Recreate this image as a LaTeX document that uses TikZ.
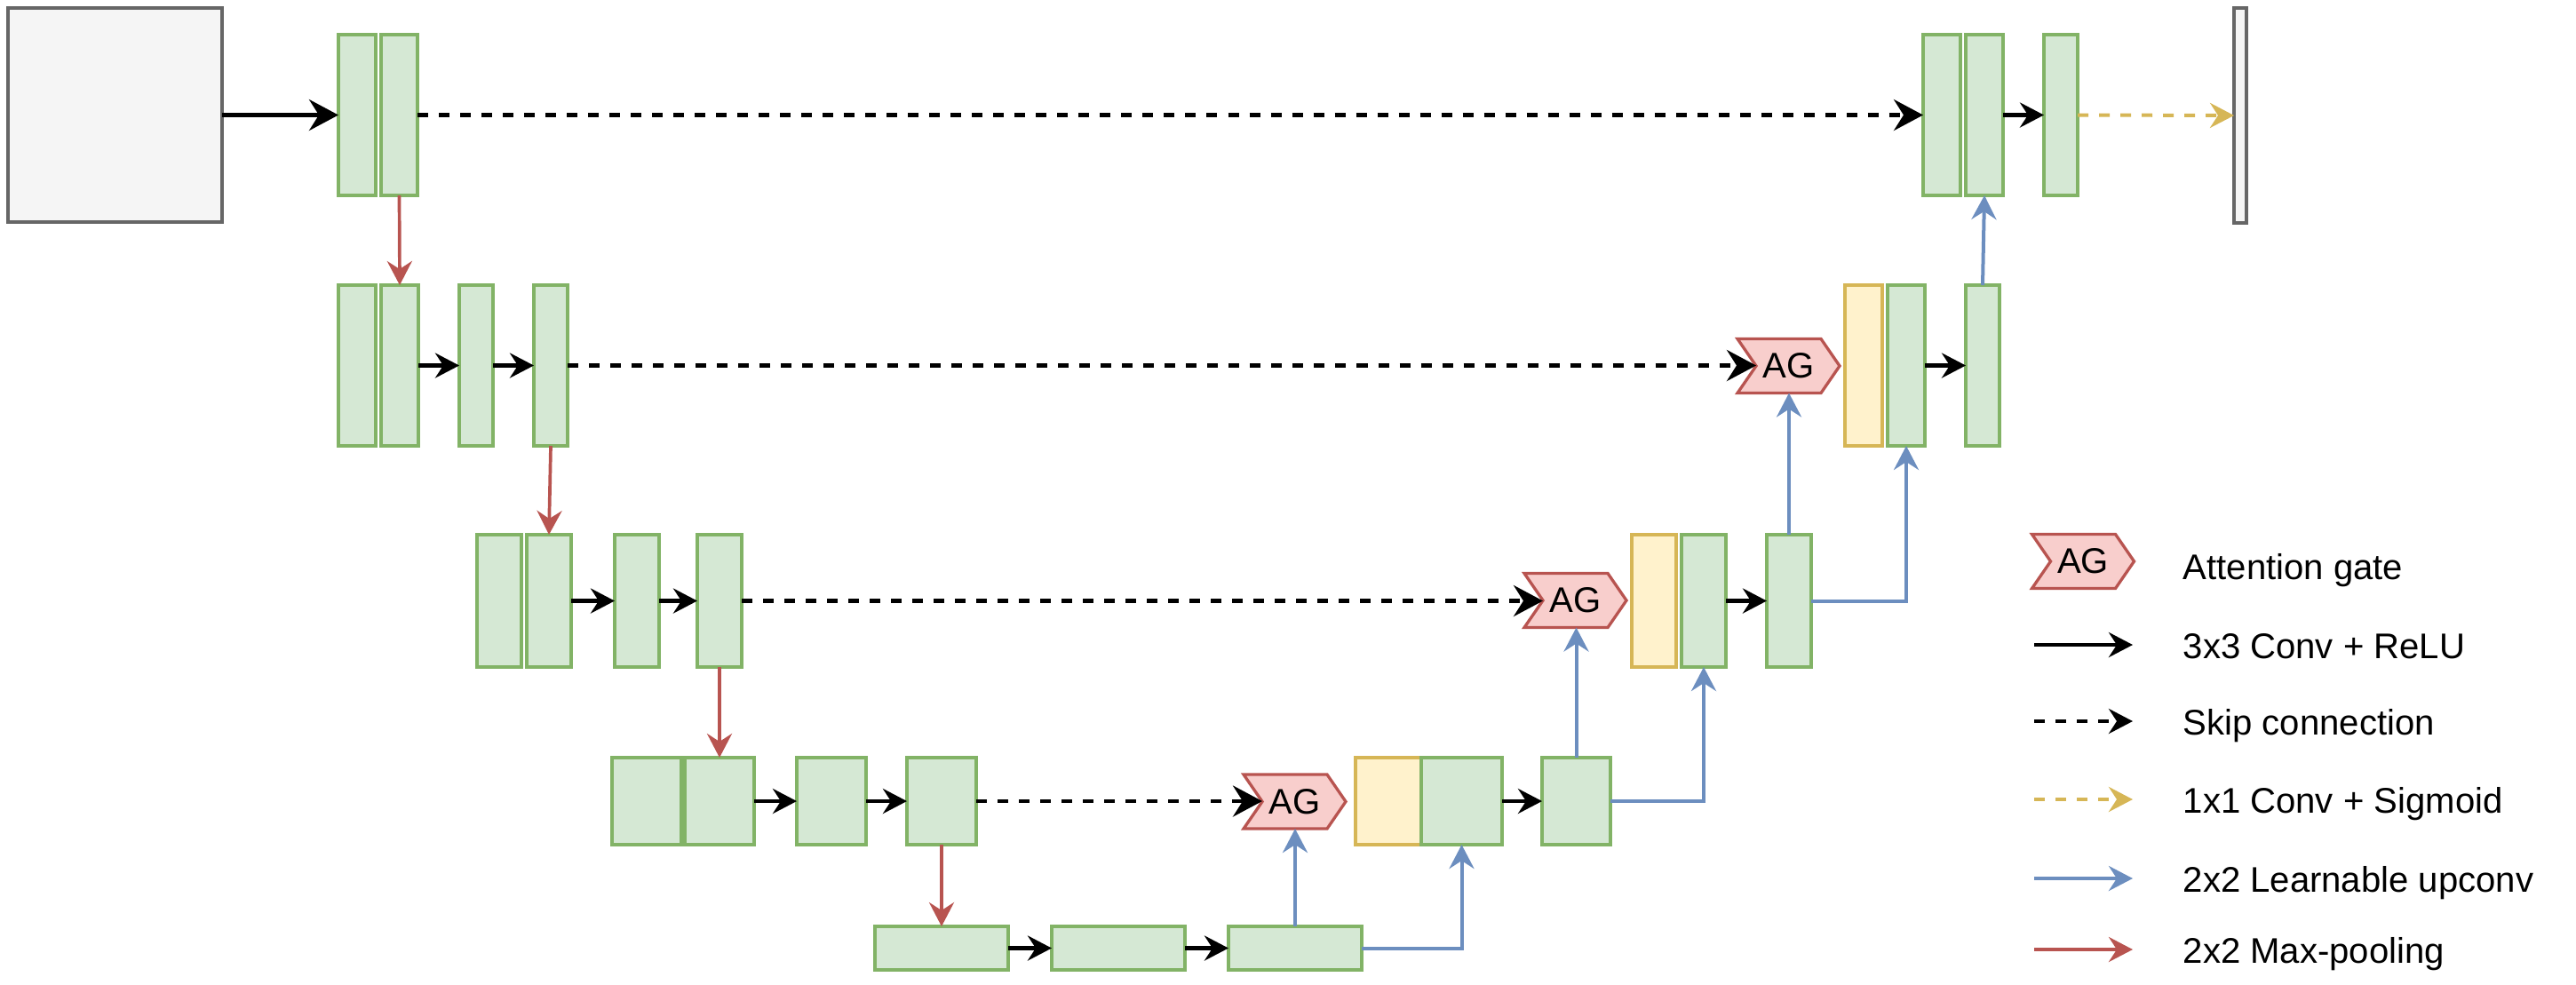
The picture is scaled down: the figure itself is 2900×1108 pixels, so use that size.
\documentclass[tikz,border=0pt]{standalone}
\usepackage{fontspec}
\setmainfont{Liberation Sans}
\usetikzlibrary{arrows.meta}
\definecolor{gfill}{HTML}{D5E8D4}
\definecolor{gline}{HTML}{82B366}
\definecolor{yfill}{HTML}{FFF2CC}
\definecolor{yline}{HTML}{D6B656}
\definecolor{rfill}{HTML}{F8CECC}
\definecolor{rline}{HTML}{B85450}
\definecolor{bline}{HTML}{6C8EBF}
\definecolor{kfill}{HTML}{F5F5F5}
\definecolor{kline}{HTML}{666666}
\tikzset{
  gbox/.style={draw=gline, fill=gfill, line width=0.033cm},
  ybox/.style={draw=yline, fill=yfill, line width=0.033cm},
  kbox/.style={draw=kline, fill=kfill, line width=0.038cm},
  agshape/.style={draw=rline, fill=rfill, line width=0.033cm, line join=miter},
  agtext/.style={inner sep=0pt, outer sep=0pt, minimum width=1.15cm, minimum height=0.61cm, font=\fontsize{11.4pt}{13pt}\selectfont},
  arrowtip/.style={-{Stealth[length=0.27cm, width=0.28cm, inset=0.09cm]}},
  bigtip/.style={-{Stealth[length=0.33cm, width=0.35cm, inset=0.11cm]}},
  convarrow/.style={arrowtip, draw=black, line width=0.042cm},
  bigconv/.style={bigtip, draw=black, line width=0.042cm},
  skiparrow/.style={bigconv, dash pattern=on 0.12cm off 0.12cm},
  legskip/.style={convarrow, dash pattern=on 0.12cm off 0.12cm},
  sigmarrow/.style={arrowtip, draw=yline, line width=0.04cm, dash pattern=on 0.12cm off 0.12cm},
  uparr/.style={arrowtip, draw=bline, line width=0.04cm},
  poolarr/.style={arrowtip, draw=rline, line width=0.037cm},
  lbl/.style={anchor=base west, inner sep=0pt, font=\fontsize{11.4pt}{13pt}\selectfont}
}
\newcommand{\mybox}[6]{\node[#2, inner sep=0pt, outer sep=0pt, minimum width={(#5-#3)*0.01cm}, minimum height={(#6-#4)*0.01cm}] (#1) at ({(#3+#5)/2},{(#4+#6)/2}) {};}
\newcommand{\agate}[3]{%
  \draw[agshape] ({#2-57.5},{#3-30.5}) -- ({#2+36.5},{#3-30.5}) -- ({#2+57.5},#3) -- ({#2+36.5},{#3+30.5}) -- ({#2-57.5},{#3+30.5}) -- ({#2-36.5},#3) -- cycle;
  \node[agtext] (#1) at (#2,#3) {AG};
  \coordinate (#1n) at ({#2-36.5},#3);
}
\begin{document}
\begin{tikzpicture}[x=0.01cm, y=-0.01cm]
\useasboundingbox (0,0) rectangle (2900,1108);
% input / output
\mybox{in}{kbox}{9}{9}{250}{250}
\mybox{out}{kbox}{2515}{9}{2529}{251}
% level 1
\mybox{e11}{gbox}{381}{39}{423}{220}
\mybox{e12}{gbox}{429}{39}{470}{220}
\mybox{d11}{gbox}{2165}{39}{2207}{220}
\mybox{d12}{gbox}{2213}{39}{2255}{220}
\mybox{d13}{gbox}{2301}{39}{2339}{220}
% level 2
\mybox{e21}{gbox}{381}{321}{423}{502}
\mybox{e22}{gbox}{429}{321}{471}{502}
\mybox{e23}{gbox}{517}{321}{555}{502}
\mybox{e24}{gbox}{601}{321}{639}{502}
\mybox{y2}{ybox}{2077}{321}{2119}{502}
\mybox{d21}{gbox}{2125}{321}{2167}{502}
\mybox{d22}{gbox}{2213}{321}{2251}{502}
\agate{ag2}{2013.5}{412}
% level 3
\mybox{e31}{gbox}{537}{602}{587}{751}
\mybox{e32}{gbox}{593}{602}{643}{751}
\mybox{e33}{gbox}{692}{602}{742}{751}
\mybox{e34}{gbox}{785}{602}{835}{751}
\mybox{y3}{ybox}{1837}{602}{1887}{751}
\mybox{d31}{gbox}{1893}{602}{1943}{751}
\mybox{d32}{gbox}{1989}{602}{2039}{751}
\agate{ag3}{1773.5}{676}
% level 4
\mybox{e41}{gbox}{689}{853}{767}{951}
\mybox{e42}{gbox}{771}{853}{849}{951}
\mybox{e43}{gbox}{897}{853}{975}{951}
\mybox{e44}{gbox}{1021}{853}{1099}{951}
\mybox{y4}{ybox}{1526}{853}{1600}{951}
\mybox{d41}{gbox}{1600}{853}{1691}{951}
\mybox{d42}{gbox}{1736}{853}{1813}{951}
\agate{ag4}{1457.5}{902.5}
% level 5
\mybox{m1}{gbox}{985}{1043}{1135}{1092}
\mybox{m2}{gbox}{1184}{1043}{1334}{1092}
\mybox{m3}{gbox}{1383}{1043}{1533}{1092}

% conv arrows
\draw[bigconv] (in.east) -- (e11.west);
\draw[convarrow] (d12.east) -- (d13.west);
\draw[convarrow] (e22.east) -- (e23.west);
\draw[convarrow] (e23.east) -- (e24.west);
\draw[convarrow] (d21.east) -- (d22.west);
\draw[convarrow] (e32.east) -- (e33.west);
\draw[convarrow] (e33.east) -- (e34.west);
\draw[convarrow] (d31.east) -- (d32.west);
\draw[convarrow] (e42.east) -- (e43.west);
\draw[convarrow] (e43.east) -- (e44.west);
\draw[convarrow] (d41.east) -- (d42.west);
\draw[convarrow] (m1.east) -- (m2.west);
\draw[convarrow] (m2.east) -- (m3.west);
% skip connections
\draw[skiparrow] (e12.east) -- (d11.west);
\draw[skiparrow] (e24.east) -- (e24.east -| ag2n);
\draw[skiparrow] (e34.east) -- (e34.east -| ag3n);
\draw[skiparrow] (e44.east) -- (e44.east -| ag4n);
% sigmoid
\draw[sigmarrow] (d13.east) -- (out.west);
% max pooling
\draw[poolarr] (e12.south) -- (e22.north);
\draw[poolarr] (e24.south) -- (e32.north);
\draw[poolarr] (e34.south) -- (e42.north);
\draw[poolarr] (e44.south) -- (m1.north);
% upconv
\draw[uparr] (m3.north) -- (m3.north |- ag4.south);
\draw[uparr] (m3.east) -| (d41.south);
\draw[uparr] (d42.north) -- (d42.north |- ag3.south);
\draw[uparr] (d42.east) -| (d31.south);
\draw[uparr] (d32.north) -- (d32.north |- ag2.south);
\draw[uparr] (d32.east) -| (d21.south);
\draw[uparr] (d22.north) -- (d12.south);

% legend
\agate{agL}{2345}{632}
\node[lbl] (t0) at (2457,652) {Attention gate};
\coordinate (l1a) at (2290,726); \coordinate (l1b) at (2401,726);
\coordinate (l2a) at (2290,812); \coordinate (l2b) at (2401,812);
\coordinate (l3a) at (2290,900); \coordinate (l3b) at (2401,900);
\coordinate (l4a) at (2290,989); \coordinate (l4b) at (2401,989);
\coordinate (l5a) at (2290,1069); \coordinate (l5b) at (2401,1069);
\draw[convarrow] (l1a) -- (l1b);
\draw[legskip] (l2a) -- (l2b);
\draw[sigmarrow] (l3a) -- (l3b);
\draw[uparr] (l4a) -- (l4b);
\draw[poolarr] (l5a) -- (l5b);
\node[lbl] (t1) at (2457,741) {3x3 Conv + ReLU};
\node[lbl] (t2) at (2457,827) {Skip connection};
\node[lbl] (t3) at (2457,915) {1x1 Conv + Sigmoid};
\node[lbl] (t4) at (2457,1004) {2x2 Learnable upconv};
\node[lbl] (t5) at (2457,1084) {2x2 Max-pooling};
\end{tikzpicture}
\end{document}
